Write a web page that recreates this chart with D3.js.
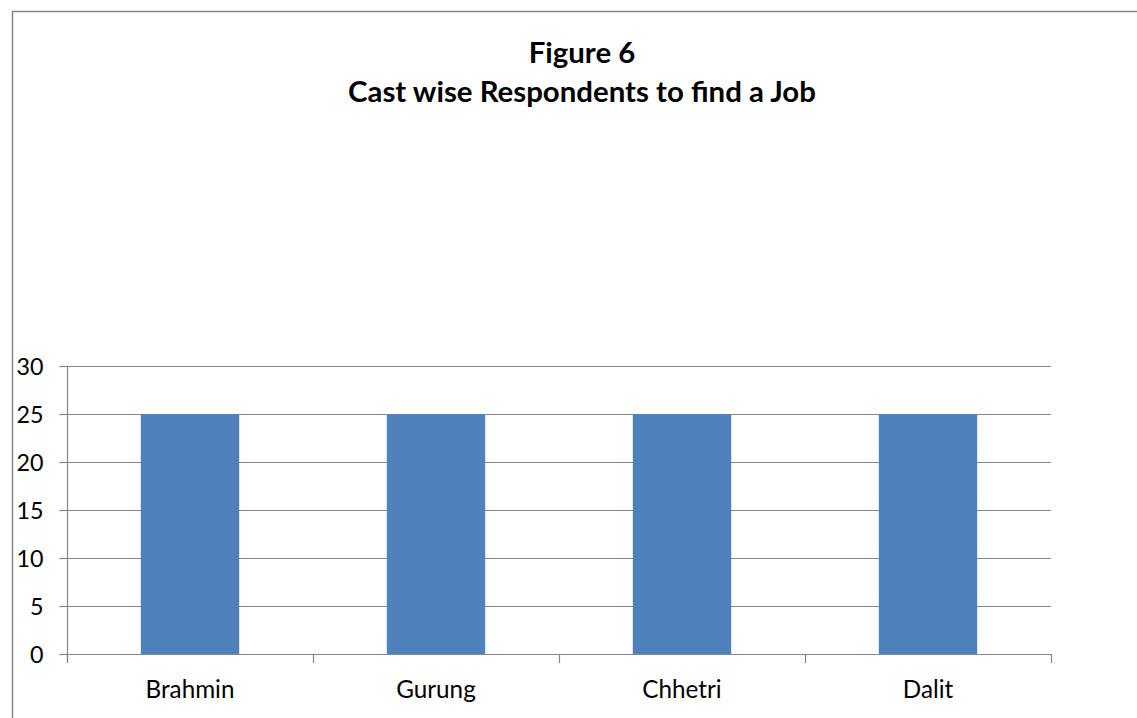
<!DOCTYPE html>
<html><head><meta charset="utf-8">
<script src="https://cdn.jsdelivr.net/npm/d3@7"></script>
<style>
html,body{margin:0;padding:0;background:#fff;}
svg{display:block;}
text{font-family:Lato,"Open Sans",sans-serif;fill:#000;}
</style></head><body>
<svg id="chart" width="1137" height="718"></svg>
<script>
const categories = ["Brahmin","Gurung","Chhetri","Dalit"];
const values = [25,25,25,25];
const yTicks = [0,5,10,15,20,25,30];
const titleLines = ["Figure 6","Cast wise Respondents to find a Job"];

const svg = d3.select("#chart");
const m = {left:67, right:1051, top:366, bottom:654};

// fit font size so that a text's width matches a target
function fitSize(txt, weight, target, base){
  const t = svg.append("text").attr("font-size",base).attr("font-weight",weight).text(txt);
  const w = t.node().getComputedTextLength();
  t.remove();
  return base*target/w;
}
const labelSize = fitSize("Brahmin","normal",89,20);
const tickSize = fitSize("30","normal",27,20);
const titleSize = fitSize(titleLines[1],"bold",468,24);

// outer border
svg.append("rect").attr("x",12.5).attr("y",11.5).attr("width",1140).attr("height",720)
  .attr("fill","#fff").attr("stroke","#868686").attr("stroke-width",1.5);

const x = d3.scaleBand().domain(categories).range([m.left,m.right]).paddingInner(0.6).paddingOuter(0.3);
const y = d3.scaleLinear().domain([0,30]).range([m.bottom,m.top]);

// gridlines
svg.append("g").selectAll("line").data(yTicks.filter(d=>d>0)).join("line")
  .attr("x1",m.left).attr("x2",m.right)
  .attr("y1",d=>Math.round(y(d))+0.5).attr("y2",d=>Math.round(y(d))+0.5)
  .attr("stroke","#868686").attr("stroke-width",1.2);

// bars
svg.append("g").selectAll("rect").data(categories).join("rect")
  .attr("x",(d)=>x(d)).attr("width",x.bandwidth())
  .attr("y",(d,i)=>y(values[i])).attr("height",(d,i)=>y(0)-y(values[i]))
  .attr("fill","#4F81BD");

// y axis
const yAxis = d3.axisLeft(y).tickValues(yTicks).tickSize(8).tickPadding(16).tickFormat(d3.format("d"));
const gy = svg.append("g").attr("transform",`translate(${m.left+0.5},0)`).call(yAxis);
gy.selectAll("line, path").attr("stroke","#868686").attr("stroke-width",1.2);
gy.select(".domain").attr("d",`M0,${m.top}V${m.bottom+8}`);
gy.selectAll(".tick text").attr("font-size",tickSize).attr("font-family","Lato").attr("fill","#000")
  .attr("dy","0.36em");

// x axis
const xAxis = d3.axisBottom(x).tickSize(0).tickPadding(26);
const gx = svg.append("g").attr("transform",`translate(0,${m.bottom+0.5})`).call(xAxis);
gx.select(".domain").attr("d",`M${m.left},0H${m.right}`).attr("stroke","#868686").attr("stroke-width",1.2);
gx.selectAll(".tick text").attr("font-size",labelSize).attr("font-family","Lato").attr("fill","#000")
  .attr("y",43).attr("dy",0);
// category boundary ticks
const bounds = d3.range(categories.length+1).map(i=>m.left + i*(m.right-m.left)/categories.length);
svg.append("g").selectAll("line").data(bounds).join("line")
  .attr("x1",d=>Math.round(d)+0.5).attr("x2",d=>Math.round(d)+0.5)
  .attr("y1",m.bottom).attr("y2",m.bottom+9)
  .attr("stroke","#868686").attr("stroke-width",1.2);

// title
svg.append("g").selectAll("text").data(titleLines).join("text")
  .attr("x",582).attr("y",(d,i)=>63+i*39)
  .attr("text-anchor","middle").attr("font-weight","bold").attr("font-size",titleSize)
  .text(d=>d);
</script></body></html>
